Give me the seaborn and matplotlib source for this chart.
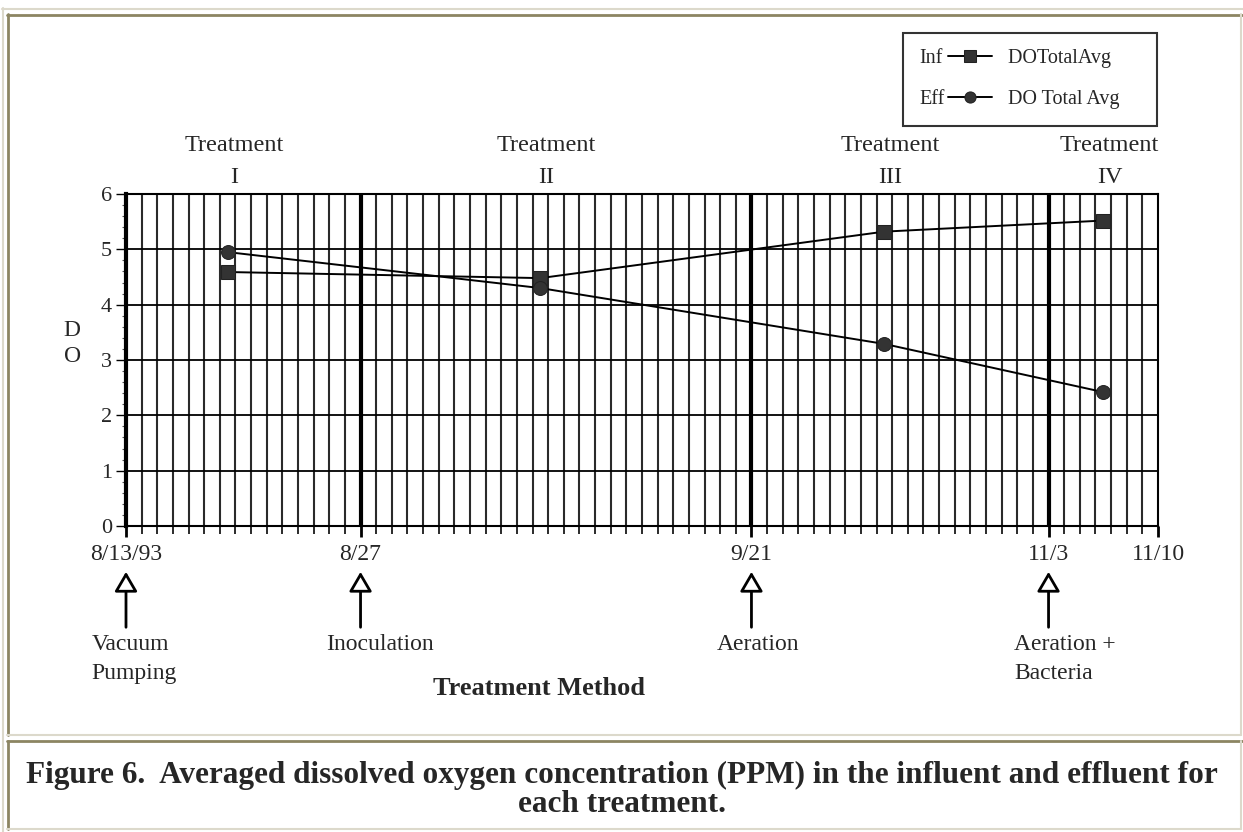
import matplotlib
matplotlib.use('Agg')
import matplotlib.pyplot as plt
from matplotlib.legend_handler import HandlerLine2D
from matplotlib.lines import Line2D
from matplotlib.text import Text
import numpy as np
import pandas as pd
import seaborn as sns

# data (x = grid column index)
treat_x = [6.5, 26.5, 48.5, 62.5]
treat_names = ['I', 'II', 'III', 'IV']
inf_do = [4.59, 4.48, 5.32, 5.52]
eff_do = [4.95, 4.30, 3.29, 2.42]

event_x = [0, 15, 40, 59]
event_names = ['Vacuum\nPumping', 'Inoculation', 'Aeration', 'Aeration +\nBacteria']
tick_x = [0, 15, 40, 59, 66]
tick_labels = ['8/13/93', '8/27', '9/21', '11/3', '11/10']

W, H = 1243, 832
OLIVE = '#8c8562'
LIGHT = '#dcd9cb'

sns.set_style('white')
plt.rcParams['font.family'] = ['Liberation Serif', 'DejaVu Serif']


def fx(x):
    return x / W


def fy(y):
    return 1 - y / H


class TagHandler(HandlerLine2D):
    # legend handle drawn as "Inf —■—": short tag text in front of the line
    def __init__(self, tag, tagw, **kw):
        super().__init__(**kw)
        self.tag = tag
        self.tagw = tagw

    def create_artists(self, legend, orig_handle, xdescent, ydescent, width, height, fontsize, trans):
        arts = super().create_artists(legend, orig_handle, xdescent - self.tagw, ydescent,
                                      width - self.tagw, height, fontsize, trans)
        t = Text(-xdescent, (height - ydescent) / 2, self.tag, fontsize=fontsize,
                 va='center_baseline', ha='left', color='.15', transform=trans)
        return [t] + list(arts)


fig = plt.figure(figsize=(W / 100, H / 100), dpi=100)
fig.patch.set_facecolor('white')

# page frames (html table borders)
def hline(y, x0, x1, color, lw):
    fig.add_artist(Line2D([fx(x0), fx(x1)], [fy(y), fy(y)], color=color, lw=lw, transform=fig.transFigure))


def vline(x, y0, y1, color, lw):
    fig.add_artist(Line2D([fx(x), fx(x)], [fy(y0), fy(y1)], color=color, lw=lw, transform=fig.transFigure))


hline(8.5, 2, 1243, LIGHT, 1.5)
vline(2.5, 8, 832, LIGHT, 1.5)
hline(14.5, 7, 1243, OLIVE, 2)
vline(7.5, 14, 735, OLIVE, 2)
vline(1240.5, 14, 735, LIGHT, 1.5)
hline(735, 7, 1241, LIGHT, 1.5)
hline(741, 7, 1243, OLIVE, 2)
vline(7.5, 741, 829, OLIVE, 2)
vline(1240.5, 741, 829, LIGHT, 1.5)
hline(829, 7, 1241, LIGHT, 1.5)

ax = fig.add_axes([fx(126), fy(526), 1032 / W, 332 / H])

df = pd.DataFrame({
    'x': treat_x * 2,
    'DO': inf_do + eff_do,
    'series': ['Inf'] * len(treat_x) + ['Eff'] * len(treat_x),
})
sns.lineplot(data=df, x='x', y='DO', hue='series', style='series',
             markers={'Inf': 's', 'Eff': 'o'}, dashes=False,
             palette={'Inf': 'black', 'Eff': 'black'}, lw=1.4,
             markersize=10, markerfacecolor='#333333', markeredgecolor='#222222',
             legend=False, ax=ax, zorder=5)
line_inf, line_eff = ax.lines[:2]

ax.set_xlim(0, 66)
ax.set_ylim(0, 6)

# dense vertical grid, heavier lines at treatment changes
ax.set_xticks(np.arange(0, 67), minor=True)
ax.grid(which='minor', axis='x', color='#2a2a2a', lw=1.5)
ax.set_yticks(range(0, 7))
ax.set_yticks(np.arange(0, 6.01, 0.2), minor=True)
ax.grid(which='major', axis='y', color='black', lw=1.3)
ax.grid(which='major', axis='x', visible=False)
for ex in event_x[1:]:
    ax.axvline(ex, color='black', lw=3, zorder=3)

ax.set_xticks(tick_x)
ax.set_xticklabels(tick_labels)
ax.tick_params(axis='x', which='major', direction='out', length=8, width=2, pad=5,
               labelsize=17, color='black', bottom=True)
ax.tick_params(axis='x', which='minor', direction='out', length=6, width=1.4, color='#2a2a2a', bottom=True)
ax.tick_params(axis='y', which='major', direction='out', length=7, width=1, pad=3,
               labelsize=16, color='black', left=True)
ax.tick_params(axis='y', which='minor', direction='out', length=3, width=0.8, color='#555555', left=True)

for side in ['top', 'right', 'bottom']:
    ax.spines[side].set_color('black')
    ax.spines[side].set_linewidth(1.5)
ax.spines['left'].set_color('black')
ax.spines['left'].set_linewidth(3)

ax.set_xlabel('')
ax.set_ylabel('D\nO', rotation=0, fontsize=17, linespacing=1.3, va='center', ha='center')
ax.yaxis.set_label_coords(-0.052, 0.55)

# treatment headings
trans = ax.get_xaxis_transform()
for tx, name in zip(treat_x, treat_names):
    ax.text(tx + 0.4, 1.145, 'Treatment', transform=trans, ha='center', va='center', fontsize=17.5)
    ax.text(tx + 0.4, 1.05, name, transform=trans, ha='center', va='center', fontsize=17.5)

# treatment method arrows
for ex, name in zip(event_x, event_names):
    ax.annotate('', xy=(ex, -0.138), xytext=(ex, -0.305), xycoords=trans, textcoords=trans,
                arrowprops=dict(arrowstyle='-|>,head_width=0.35,head_length=0.6',
                                facecolor='white', edgecolor='black', lw=2,
                                mutation_scale=20, shrinkA=0, shrinkB=0),
                annotation_clip=False)
    ax.text(ex - 2.2, -0.325, name, transform=trans, ha='left', va='top', fontsize=17,
            linespacing=1.5)

ax.text(0.4, -0.49, 'Treatment Method', transform=ax.transAxes, ha='center', va='center',
        fontsize=19, fontweight='bold')

# legend: "Inf —■— DOTotalAvg"
leg = ax.legend([line_inf, line_eff], ['DOTotalAvg      ', 'DO Total Avg    '], loc='upper left',
                handler_map={line_inf: TagHandler('Inf', 21), line_eff: TagHandler('Eff', 21)},
                bbox_to_anchor=(fx(903), fy(33)), bbox_transform=fig.transFigure,
                fontsize=14.5, frameon=True, fancybox=False, edgecolor='black',
                handlelength=3.6, handletextpad=0.8, labelspacing=1.1,
                borderpad=0.8, borderaxespad=0, markerscale=0.8)
leg.get_frame().set_linewidth(1.5)

fig.text(0.5, fy(775), 'Figure 6.  Averaged dissolved oxygen concentration (PPM) in the influent and effluent for',
         ha='center', va='center', fontsize=22.5, fontweight='bold')
fig.text(0.5, fy(805), 'each treatment.', ha='center', va='center', fontsize=22.5, fontweight='bold')

fig.savefig('out.png', dpi=100)
